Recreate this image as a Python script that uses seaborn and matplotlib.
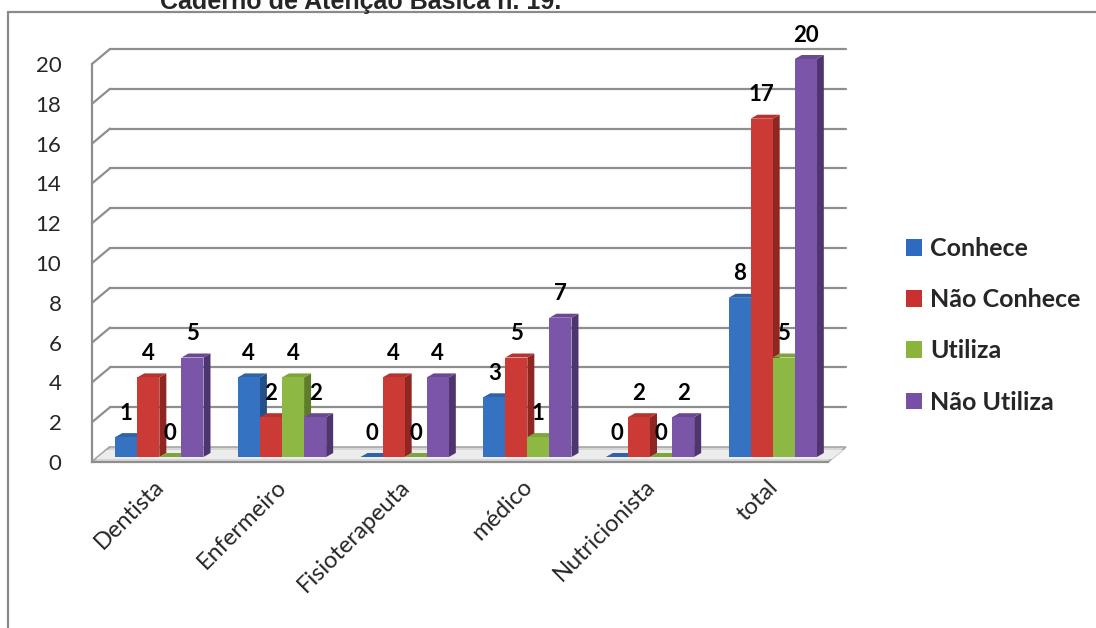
import numpy as np
import pandas as pd
import matplotlib
matplotlib.use("Agg")
import matplotlib.pyplot as plt
import matplotlib.transforms as mtransforms
from matplotlib.patches import Polygon, Rectangle, Patch
import seaborn as sns

# ---------------- data ----------------
categories = ["Dentista", "Enfermeiro", "Fisioterapeuta", "médico", "Nutricionista", "total"]
series = ["Conhece", "Não Conhece", "Utiliza", "Não Utiliza"]
conhece = [1, 4, 0, 3, 0, 8]
nao_conhece = [4, 2, 4, 5, 2, 17]
utiliza = [0, 4, 0, 1, 0, 5]
nao_utiliza = [5, 2, 4, 7, 2, 20]
yticks = list(range(0, 21, 2))
title_text = "Caderno de Atenção Básica n. 19."

front_colors = ["#3572C2", "#CC3A35", "#8DB843", "#7A55A8"]
side_colors = ["#24508A", "#8E2623", "#5E7D2A", "#4E356F"]
top_colors = ["#2E63A8", "#B53330", "#7DA53A", "#6A4895"]
legend_colors = ["#2E6BC0", "#C8312F", "#8AB43C", "#7650A5"]

rows = []
for s, vals in zip(series, [conhece, nao_conhece, utiliza, nao_utiliza]):
    for c, v in zip(categories, vals):
        rows.append({"cat": c, "serie": s, "val": v})
df = pd.DataFrame(rows)

# ---------------- style ----------------
sns.set_style("white")
plt.rcParams["font.family"] = ["Lato", "DejaVu Sans"]

W, H = 1096, 628
fig = plt.figure(figsize=(W / 100, H / 100), dpi=100)
fig.patch.set_facecolor("white")

# front plane of the chart
ax_left, ax_right, ax_bottom, ax_top = 92, 828, 462, 64
ax = fig.add_axes([ax_left / W, (H - ax_bottom) / H,
                   (ax_right - ax_left) / W, (ax_bottom - ax_top) / H])
ax.set_facecolor("none")

sns.barplot(data=df, x="cat", y="val", hue="serie", order=categories,
            hue_order=series, palette=front_colors, width=0.72, gap=0,
            saturation=1, legend=False, ax=ax, linewidth=0)

ax.set_xlim(-0.5, len(categories) - 0.5)
ax.set_ylim(0, 20)

# offsets (display pixels)
BAR_DX, BAR_DY = 6, 5      # bar front plane behind the axis plane
DEP_DX, DEP_DY = 7, 4      # bar depth
WALL_DX, WALL_DY = 18, 15  # back wall
ident = mtransforms.IdentityTransform()
grid_col = "#8e8e8e"

def px(x, y):
    return ax.transData.transform((x, y))

x0d, y0d = px(-0.5, 0)
x1d, _ = px(len(categories) - 0.5, 0)

# floor (slab with a little thickness)
floor = Polygon([(x0d, y0d), (x1d, y0d), (x1d + WALL_DX, y0d + WALL_DY),
                 (x0d + WALL_DX, y0d + WALL_DY)], closed=True,
                facecolor="#d6d6d6", edgecolor="#a8a8a8", lw=1.2,
                transform=ident, zorder=1, clip_on=False)
ax.add_artist(floor)
floor_light = Polygon([(x0d + 4, y0d + 3), (x1d + 4, y0d + 3), (x1d + WALL_DX - 3, y0d + WALL_DY - 3),
                       (x0d + WALL_DX - 3, y0d + WALL_DY - 3)],
                      closed=True, facecolor="#ececec", edgecolor="none",
                      transform=ident, zorder=1.1, clip_on=False)
ax.add_artist(floor_light)

# gridlines on back wall + diagonal connectors
for v in yticks:
    xa, ya = px(-0.5, v)
    if v > 0:
        ax.add_artist(plt.Line2D([xa + WALL_DX, x1d + WALL_DX], [ya + WALL_DY, ya + WALL_DY],
                                 color=grid_col, lw=1.6, transform=ident, zorder=0.5,
                                 clip_on=False))
    ax.add_artist(plt.Line2D([xa, xa + WALL_DX], [ya, ya + WALL_DY],
                             color=grid_col, lw=1.6, transform=ident, zorder=0.5,
                             clip_on=False))

# 3D bars
bars = [p for p in ax.patches if isinstance(p, Rectangle)]
bars_sorted = sorted(bars, key=lambda p: p.get_x())
bar_offset = mtransforms.ScaledTranslation(BAR_DX / 100, BAR_DY / 100, fig.dpi_scale_trans)
for rank, p in enumerate(bars_sorted):
    x = p.get_x(); w = p.get_width(); h = p.get_height()
    k = next(i for i, c in enumerate(front_colors)
             if np.allclose(matplotlib.colors.to_rgba(c), p.get_facecolor()))
    xl, yb = px(x, 0)
    xr, yt = px(x + w, h)
    xl += BAR_DX; xr += BAR_DX; yb += BAR_DY; yt += BAR_DY
    z = 2 + rank * 0.1
    side = Polygon([(xr, yb), (xr + DEP_DX, yb + DEP_DY), (xr + DEP_DX, yt + DEP_DY), (xr, yt)],
                   closed=True, facecolor=side_colors[k], edgecolor="none",
                   transform=ident, zorder=z, clip_on=False)
    top = Polygon([(xl, yt), (xl + DEP_DX, yt + DEP_DY), (xr + DEP_DX, yt + DEP_DY), (xr, yt)],
                  closed=True, facecolor=top_colors[k], edgecolor="none",
                  transform=ident, zorder=z + 0.01, clip_on=False)
    ax.add_artist(side)
    ax.add_artist(top)
    p.set_transform(ax.transData + bar_offset)
    p.set_zorder(z + 0.02)
    p.set_clip_on(False)
    ax.annotate(f"{int(h)}", xy=(x + w / 2, h), xytext=(BAR_DX, BAR_DY + 24),
                textcoords="offset pixels", ha="center", va="center",
                fontsize=16, fontweight="bold", color="black",
                zorder=10, annotation_clip=False)

# axes decoration
for s in ["top", "right"]:
    ax.spines[s].set_visible(False)
ax.spines["left"].set_color(grid_col)
ax.spines["left"].set_linewidth(1.6)
ax.spines["bottom"].set_color(grid_col)
ax.spines["bottom"].set_linewidth(1.6)
ax.spines["left"].set_zorder(0.6)
ax.spines["bottom"].set_zorder(1.5)

ax.set_yticks(yticks)
ax.set_yticklabels([str(v) for v in yticks])
ax.tick_params(axis="y", length=7, width=1.6, color=grid_col, pad=15, labelsize=16,
               direction="out")
ax.set_xticks(range(len(categories)))
ax.set_xticklabels(categories, rotation=45, ha="right", rotation_mode="anchor",
                   fontsize=17)
ax.set_xticks(np.arange(-0.5, len(categories), 1.0), minor=True)
ax.tick_params(axis="x", which="major", length=0, pad=10)
ax.tick_params(axis="x", which="minor", length=8, width=1.6, color=grid_col,
               direction="out")
ax.set_xlabel("")
ax.set_ylabel("")

# legend
handles = [Patch(facecolor=c, edgecolor="none") for c in legend_colors]
fig.legend(handles, series, loc="upper left", bbox_to_anchor=(906 / W, (H - 237) / H),
           frameon=False, prop={"family": ["Lato", "DejaVu Sans"], "weight": "bold", "size": 18},
           handlelength=0.65, handleheight=0.65, handletextpad=0.3, labelspacing=1.13,
           borderaxespad=0, borderpad=0)

# chart border
fig.add_artist(Rectangle((8 / W, -0.1), 1.2, (H - 12) / H + 0.1, transform=fig.transFigure,
                         facecolor="none", edgecolor="#8a8a8a", lw=1.6))

# title above the chart, partly cut off as in the source image
fig.text(160 / W, (H - 9) / H, title_text, ha="left", va="baseline",
         fontsize=18, fontweight="bold", family=["Liberation Sans", "DejaVu Sans"])

fig.savefig("out.png", dpi=100)
